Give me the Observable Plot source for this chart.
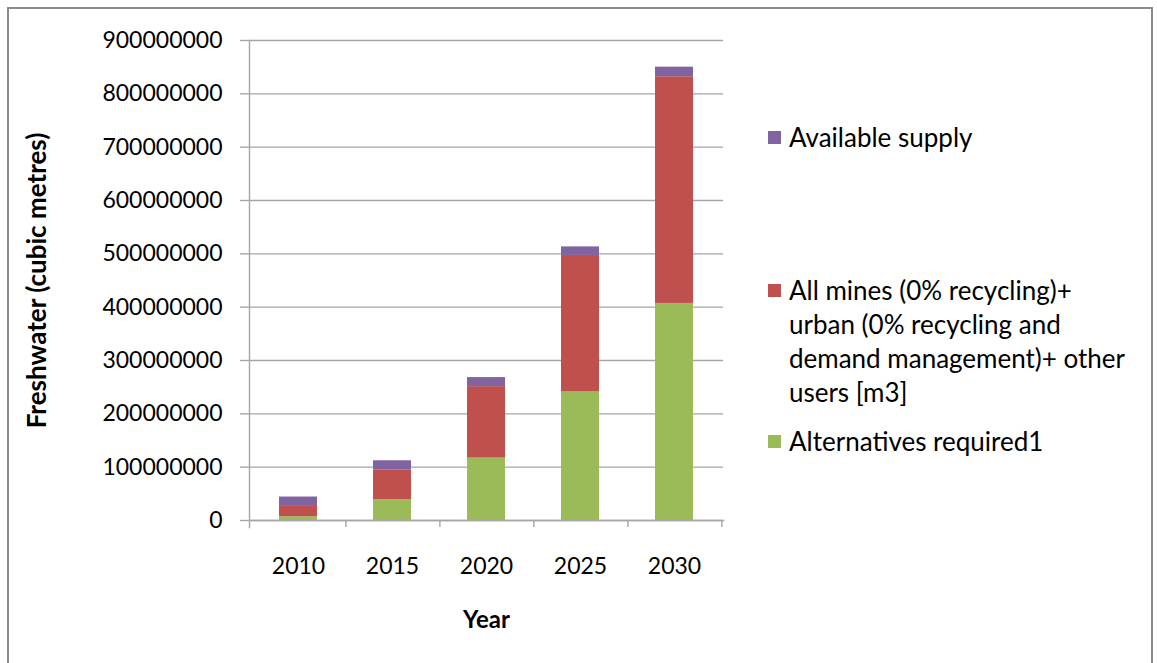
<!DOCTYPE html>
<html>
<head>
<meta charset="utf-8">
<script src="https://cdn.jsdelivr.net/npm/d3@7"></script>
<script src="https://cdn.jsdelivr.net/npm/@observablehq/plot@0.6"></script>
<style>
  html, body { margin: 0; padding: 0; background: #fff; }
  #wrap { position: relative; width: 1157px; height: 663px; overflow: hidden; font-family: Lato, "Open Sans", sans-serif; }
  #wrap svg { position: absolute; left: 0; top: 0; }
  #border { position: absolute; left: 7px; top: 7px; width: 1146px; height: 700px; border: 2px solid #8c8c8c; box-sizing: border-box; pointer-events: none; }
  .leg { position: absolute; left: 768px; font-size: 26px; color: #000; line-height: 34px; white-space: nowrap; }
  .leg .sw { position: absolute; left: 0; top: 11px; width: 13px; height: 13px; }
  .leg .tx { position: absolute; left: 21px; top: 0; }
</style>
</head>
<body>
<div id="wrap">
  <div id="chart"></div>
  <div id="border"></div>
  <div id="legend"></div>
</div>
<script>
// ---- data ----
const years = ["2010", "2015", "2020", "2025", "2030"];
const alternativesRequired = [7e6, 39e6, 117e6, 241e6, 407e6];
const allMinesUrbanOther = [21e6, 56e6, 134e6, 256e6, 425e6];
const availableSupply = [16e6, 17e6, 17e6, 16e6, 18e6];
const seriesNames = [
  "Alternatives required1",
  "All mines (0% recycling)+ urban (0% recycling and demand management)+ other users [m3]",
  "Available supply"
];
const seriesColors = ["#9BBB59", "#C0504D", "#8064A2"];
const yTicks = [0, 100000000, 200000000, 300000000, 400000000, 500000000, 600000000, 700000000, 800000000, 900000000];
const legendLines = [
  ["Available supply"],
  ["All mines (0% recycling)+", "urban (0% recycling and", "demand management)+ other", "users [m3]"],
  ["Alternatives required1"]
];
const legendColors = ["#8064A2", "#C0504D", "#9BBB59"];
const legendTops = [120, 273, 424];

const valueLists = [alternativesRequired, allMinesUrbanOther, availableSupply];
const rows = [];
seriesNames.forEach((s, si) => {
  years.forEach((y, yi) => rows.push({ year: y, series: s, value: valueLists[si][yi] }));
});

const W = 1157, H = 663;
const plot = Plot.plot({
  width: W,
  height: H,
  marginLeft: 249,
  marginRight: W - 723,
  marginTop: 40,
  marginBottom: H - 520,
  style: { fontFamily: "Lato, 'Open Sans', sans-serif", fontSize: "23px", color: "#000", background: "transparent" },
  x: { domain: years, paddingInner: 0.6, paddingOuter: 0.3, label: null },
  y: { domain: [0, 900000000], label: null },
  color: { domain: seriesNames, range: seriesColors },
  marks: [
    Plot.gridY(yTicks, { stroke: "#a6a6a6", strokeOpacity: 1, strokeWidth: 1.4 }),
    Plot.barY(rows, { x: "year", y: "value", fill: "series", order: seriesNames }),
    Plot.frame({ anchor: "left", stroke: "#a6a6a6", strokeWidth: 1.4, insetBottom: -7 }),
    Plot.frame({ anchor: "bottom", stroke: "#a6a6a6", strokeWidth: 1.4 }),
    Plot.axisY(yTicks, { tickSize: 9, tickPadding: 18, stroke: "#a6a6a6", strokeWidth: 1.4, tickFormat: d3.format("d"), label: null, fill: "#000" }),
    Plot.axisX(years, { tickSize: 7, dx: 47.4, text: null, stroke: "#a6a6a6", strokeWidth: 1.4, label: null }),
    Plot.axisX(years, { tickSize: 0, tickPadding: 37, label: null, fill: "#000" }),
    Plot.text(["Freshwater (cubic metres)"], { frameAnchor: "left", dx: -212, rotate: -90, textAnchor: "middle", lineAnchor: "middle", fontWeight: "bold", fontSize: 26, fill: "#000" }),
    Plot.text(["Year"], { frameAnchor: "bottom", dy: 100, textAnchor: "middle", lineAnchor: "middle", fontWeight: "bold", fontSize: 24, fill: "#000" })
  ]
});
document.getElementById("chart").appendChild(plot);

const legend = document.getElementById("legend");
legendLines.forEach((lines, i) => {
  const d = document.createElement("div");
  d.className = "leg";
  d.style.top = legendTops[i] + "px";
  const sw = document.createElement("div");
  sw.className = "sw";
  sw.style.background = legendColors[i];
  const tx = document.createElement("div");
  tx.className = "tx";
  tx.innerHTML = lines.join("<br>");
  d.appendChild(sw);
  d.appendChild(tx);
  legend.appendChild(d);
});
</script>
</body>
</html>
